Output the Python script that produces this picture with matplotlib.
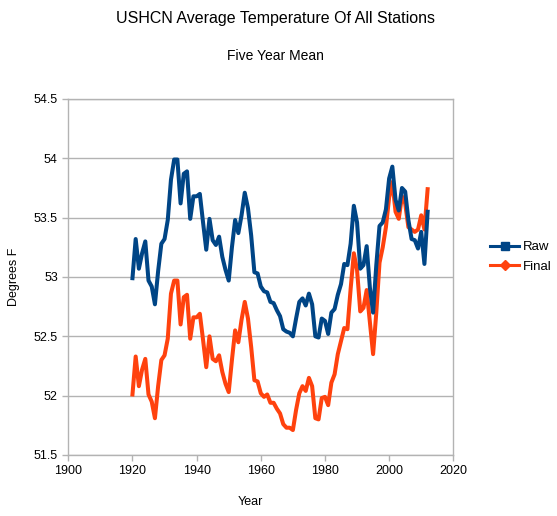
import matplotlib
matplotlib.use("Agg")
import matplotlib.pyplot as plt
from matplotlib.lines import Line2D
from matplotlib.ticker import FuncFormatter, MultipleLocator

plt.rcParams["font.family"] = ["Liberation Sans", "DejaVu Sans"]

# ── data ──────────────────────────────────────────────────────────────────────
years = list(range(1920, 2013))

raw = [
    52.99, 53.32, 53.07, 53.20, 53.30, 52.97, 52.92, 52.77, 53.05, 53.28,   # 1920s
    53.32, 53.48, 53.82, 53.99, 53.99, 53.62, 53.87, 53.89, 53.49, 53.68,   # 1930s
    53.68, 53.70, 53.46, 53.23, 53.49, 53.31, 53.27, 53.34, 53.17, 53.06,   # 1940s
    52.97, 53.25, 53.48, 53.37, 53.52, 53.71, 53.58, 53.35, 53.04, 53.03,   # 1950s
    52.92, 52.88, 52.87, 52.79, 52.78, 52.72, 52.67, 52.56, 52.54, 52.53,   # 1960s
    52.50, 52.65, 52.79, 52.82, 52.76, 52.86, 52.77, 52.50, 52.49, 52.65,   # 1970s
    52.63, 52.52, 52.70, 52.73, 52.85, 52.94, 53.11, 53.10, 53.28, 53.60,   # 1980s
    53.46, 53.07, 53.10, 53.26, 52.91, 52.70, 53.10, 53.43, 53.46, 53.57,   # 1990s
    53.83, 53.93, 53.65, 53.56, 53.75, 53.72, 53.48, 53.32, 53.31, 53.24,   # 2000s
    53.38, 53.11, 53.55,
]

final = [
    52.01, 52.33, 52.08, 52.22, 52.31, 52.01, 51.95, 51.81, 52.08, 52.30,
    52.34, 52.48, 52.86, 52.97, 52.97, 52.60, 52.83, 52.85, 52.48, 52.66,
    52.66, 52.69, 52.47, 52.24, 52.50, 52.31, 52.29, 52.34, 52.20, 52.10,
    52.03, 52.30, 52.55, 52.45, 52.64, 52.79, 52.65, 52.41, 52.13, 52.12,
    52.02, 51.99, 52.01, 51.94, 51.94, 51.89, 51.85, 51.76, 51.73, 51.73,
    51.71, 51.88, 52.02, 52.08, 52.04, 52.15, 52.08, 51.81, 51.80, 51.98,
    51.99, 51.92, 52.11, 52.18, 52.35, 52.46, 52.57, 52.56, 52.90, 53.20,
    53.06, 52.71, 52.74, 52.89, 52.62, 52.35, 52.70, 53.12, 53.25, 53.42,
    53.67, 53.80, 53.55, 53.49, 53.68, 53.62, 53.42, 53.40, 53.38, 53.40,
    53.52, 53.40, 53.74,
]

RAW_C = "#004586"
FINAL_C = "#ff420e"
GRID_C = "#b3b3b3"

fig = plt.figure(figsize=(5.57, 5.16), dpi=100)
ax = fig.add_axes([68.3 / 557, 1 - 455 / 516, (453.3 - 68.3) / 557, (455 - 99) / 516])

ax.plot(years, final, color=FINAL_C, lw=2.9, solid_joinstyle="round", zorder=3)
ax.plot(years, raw, color=RAW_C, lw=2.9, solid_joinstyle="round", zorder=4)

ax.set_xlim(1900, 2020)
ax.set_ylim(51.5, 54.5)
ax.xaxis.set_major_locator(MultipleLocator(20))
ax.yaxis.set_major_locator(MultipleLocator(0.5))
ax.yaxis.set_major_formatter(FuncFormatter(lambda v, _: f"{v:g}"))

ax.grid(axis="y", color=GRID_C, lw=1.0)
ax.set_axisbelow(True)
for s in ax.spines.values():
    s.set_color(GRID_C)
    s.set_linewidth(1.0)
ax.tick_params(colors=GRID_C, labelcolor="black", labelsize=9, length=4, width=1.0)

fig.text(275.8 / 557, 1 - 18 / 516, "USHCN Average Temperature Of All Stations",
         ha="center", va="center", fontsize=11.5)
fig.text(275.8 / 557, 1 - 56 / 516, "Five Year Mean",
         ha="center", va="center", fontsize=10)
fig.text(250.7 / 557, 1 - 502 / 516, "Year", ha="center", va="center", fontsize=9)
fig.text(14 / 557, 1 - 277 / 516, "Degrees F", ha="center", va="center",
         rotation=90, fontsize=9)

handles = [
    Line2D([], [], color=RAW_C, lw=2.2, marker="s", ms=6),
    Line2D([], [], color=FINAL_C, lw=2.2, marker="D", ms=5),
]
fig.legend(handles, ["Raw", "Final"], loc="center left",
           bbox_to_anchor=(490 / 557, 1 - 257 / 516), frameon=False,
           fontsize=9.5, handlelength=2.2, handletextpad=0.3, labelspacing=0.55,
           borderpad=0, borderaxespad=0)

fig.savefig("out.png", dpi=100)
